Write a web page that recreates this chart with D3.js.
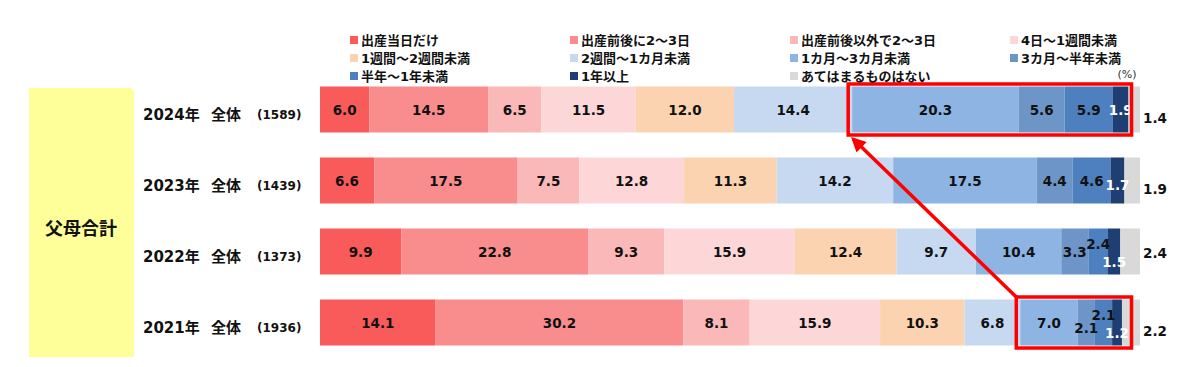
<!DOCTYPE html>
<html>
<head>
<meta charset="utf-8">
<script src="https://cdn.jsdelivr.net/npm/d3@7"></script>
<style>
  html, body { margin: 0; padding: 0; background: #fff; }
  svg { display: block; }
  text { font-family: "DejaVu Sans", "Noto Sans CJK JP", sans-serif; }
</style>
</head>
<body>
<svg id="chart" width="1200" height="367"></svg>
<script>
// ---------- data ----------
const groupLabel = "父母合計";
const years = ["2024年", "2023年", "2022年", "2021年"];
const scopeLabel = "全体";
const sampleSizes = ["(1589)", "(1439)", "(1373)", "(1936)"];
const categories = [
  "出産当日だけ", "出産前後に2～3日", "出産前後以外で2～3日", "4日～1週間未満",
  "1週間～2週間未満", "2週間～1カ月未満", "1カ月～3カ月未満", "3カ月～半年未満",
  "半年～1年未満", "1年以上", "あてはまるものはない"
];
const values2024 = [6.0, 14.5, 6.5, 11.5, 12.0, 14.4, 20.3, 5.6, 5.9, 1.9, 1.4];
const values2023 = [6.6, 17.5, 7.5, 12.8, 11.3, 14.2, 17.5, 4.4, 4.6, 1.7, 1.9];
const values2022 = [9.9, 22.8, 9.3, 15.9, 12.4, 9.7, 10.4, 3.3, 2.4, 1.5, 2.4];
const values2021 = [14.1, 30.2, 8.1, 15.9, 10.3, 6.8, 7.0, 2.1, 2.1, 1.2, 2.2];
const unitLabel = "(%)";
const highlightYears = ["2024年", "2021年"];
const highlightFrom = "1カ月～3カ月未満";
const highlightTo = "1年以上";

// ---------- style ----------
const colors = ["#f95b5b", "#f98d8d", "#fbb8b8", "#fdd7d7", "#fbd3b0", "#c6d9f0",
                "#8eb4e3", "#6d95c8", "#4e80c0", "#1f3f73", "#d9d9d9"];
const whiteLabelCats = ["1年以上"];
// vertical nudges for crowded labels (by year|category)
const labelNudge = {
  "2023年|1年以上": 4,
  "2022年|半年～1年未満": -8,
  "2022年|1年以上": 10,
  "2021年|3カ月～半年未満": 5,
  "2021年|半年～1年未満": -8,
  "2021年|1年以上": 10,
  "2024年|あてはまるものはない": 8,
  "2023年|あてはまるものはない": 8,
  "2022年|あてはまるものはない": 1,
  "2021年|あてはまるものはない": 8
};

const rows = [values2024, values2023, values2022, values2021];
const svg = d3.select("#chart");

const x = d3.scaleLinear().domain([0, 100]).range([320, 1140]);
const y = d3.scaleBand().domain(years).range([74, 358]).paddingInner(0.352).paddingOuter(0.176);
const color = d3.scaleOrdinal().domain(categories).range(colors);

// stacked data
const table = years.map((yr, i) => {
  const o = { year: yr };
  categories.forEach((c, j) => o[c] = rows[i][j]);
  return o;
});
const series = d3.stack().keys(categories)(table);

// yellow group box
svg.append("path")
  .attr("d", () => {
    const x0 = 29, x1 = 134, y0 = 88, y1 = 357, r = 5;
    return `M${x0},${y0} H${x1 - r} Q${x1},${y0} ${x1},${y0 + r} V${y1} H${x0} Z`;
  })
  .attr("fill", "#ffff99");
svg.append("text")
  .attr("x", 81).attr("y", 227)
  .attr("text-anchor", "middle").attr("dominant-baseline", "central")
  .attr("font-size", 18).attr("font-weight", "bold").attr("fill", "#111")
  .style("font-family", "'Noto Sans CJK JP', sans-serif")
  .text(groupLabel);

// row labels
const rowLab = svg.append("g");
years.forEach((yr, i) => {
  const cy = y(yr) + y.bandwidth() / 2 + 5;
  const t = rowLab.append("text").attr("y", cy).attr("dominant-baseline", "central")
    .attr("font-weight", "bold").attr("fill", "#111");
  t.append("tspan").attr("x", 143).attr("font-size", 15).text(yr);
  t.append("tspan").attr("x", 211).attr("font-size", 15).text(scopeLabel);
  t.append("tspan").attr("x", 257).attr("font-size", 12).text(sampleSizes[i]);
});

// bars
const layers = svg.append("g").selectAll("g").data(series).join("g")
  .attr("fill", d => color(d.key));
layers.selectAll("rect").data(d => d.map(p => ({ p, key: d.key }))).join("rect")
  .attr("x", d => x(d.p[0]))
  .attr("y", d => y(d.p.data.year))
  .attr("width", d => x(d.p[1]) - x(d.p[0]))
  .attr("height", y.bandwidth());

// value labels
const lastCat = categories[categories.length - 1];
const labG = svg.append("g");
series.forEach(s => {
  s.forEach(p => {
    const yr = p.data.year;
    const v = p[1] - p[0];
    const isLast = s.key === lastCat;
    const cx = isLast ? x(100) + 15 : (x(p[0]) + x(p[1])) / 2;
    const cy = y(yr) + y.bandwidth() / 2 + (labelNudge[yr + "|" + s.key] || 0);
    labG.append("text")
      .attr("x", cx).attr("y", cy)
      .attr("text-anchor", "middle").attr("dominant-baseline", "central")
      .attr("font-size", 13.5).attr("font-weight", "bold")
      .attr("fill", whiteLabelCats.includes(s.key) ? "#ffffff" : "#111")
      .text(d3.format(".1f")(v));
  });
});

// highlight boxes
const iFrom = categories.indexOf(highlightFrom);
const iTo = categories.indexOf(highlightTo);
const boxRight = d3.max(highlightYears, yr => x(series[iTo].find(p => p.data.year === yr)[1])) + 3;
const boxes = highlightYears.map(yr => {
  const s0 = series[iFrom].find(p => p.data.year === yr);
  return { x0: x(s0[0]) - 4, x1: boxRight, y0: y(yr) - 2.5, y1: y(yr) + y.bandwidth() + 2.5 };
});
svg.append("g").selectAll("rect").data(boxes).join("rect")
  .attr("x", d => d.x0).attr("y", d => d.y0)
  .attr("width", d => d.x1 - d.x0).attr("height", d => d.y1 - d.y0)
  .attr("fill", "none").attr("stroke", "#ff0000").attr("stroke-width", 3.5);

// arrow from lower box to upper box
const defs = svg.append("defs");
defs.append("marker").attr("id", "ah").attr("viewBox", "0 0 10 10")
  .attr("refX", 8).attr("refY", 5).attr("markerWidth", 4.6).attr("markerHeight", 4.2)
  .attr("markerUnits", "strokeWidth").attr("orient", "auto")
  .append("path").attr("d", "M0,0 L10,5 L0,10 Z").attr("fill", "#ff0000");
const tail = { x: boxes[1].x0, y: boxes[1].y0 };
const head = { x: boxes[0].x0 + 5, y: boxes[0].y1 + 4 };
svg.append("line")
  .attr("x1", tail.x).attr("y1", tail.y).attr("x2", head.x).attr("y2", head.y)
  .attr("stroke", "#ff0000").attr("stroke-width", 3.5)
  .attr("marker-end", "url(#ah)");

// legend
const legCols = [350, 570, 790, 1010];
const legRows = [40, 58, 76];
const leg = svg.append("g");
categories.forEach((c, i) => {
  const lx = legCols[i % 4], ly = legRows[Math.floor(i / 4)];
  leg.append("rect").attr("x", lx).attr("y", ly - 4).attr("width", 8).attr("height", 8).attr("fill", color(c));
  leg.append("text").attr("x", lx + 11).attr("y", ly).attr("dominant-baseline", "central")
    .attr("font-size", 13).attr("font-weight", "bold").attr("fill", "#111").text(c);
});
svg.append("text").attr("x", 1127).attr("y", 74).attr("text-anchor", "middle")
  .attr("dominant-baseline", "central").attr("font-size", 11).attr("fill", "#333")
  .text(unitLabel);
</script>
</body>
</html>
